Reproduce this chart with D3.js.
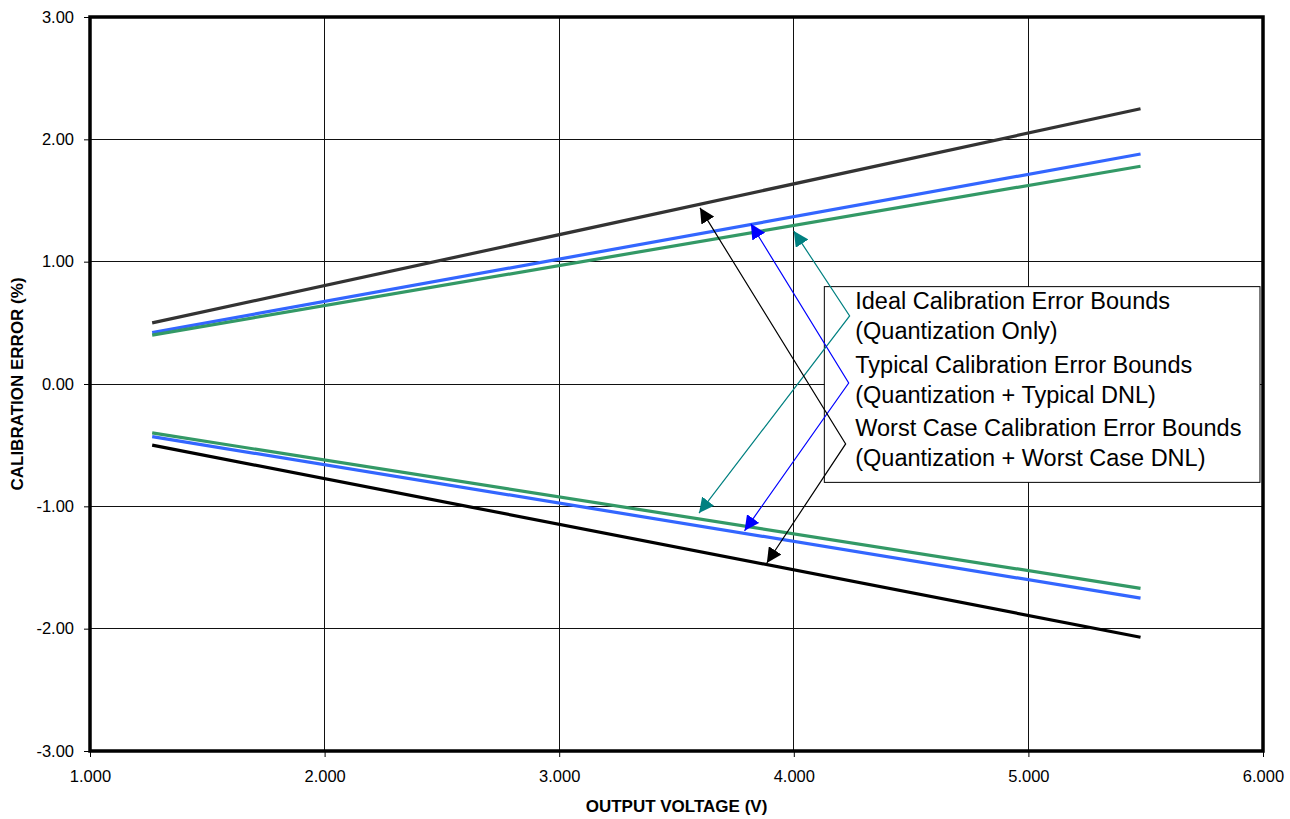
<!DOCTYPE html>
<html lang="en">
  <head>
    <meta charset="UTF-8" />
    <title>Calibration Error Bounds</title>
    <style>
      body { margin: 0; background: #fff; }
      svg { font-family: 'Liberation Sans', Arial, sans-serif; }
    </style>
  </head>
  <body>
    <svg width="1290" height="819"></svg>
    <script src="https://cdnjs.cloudflare.com/ajax/libs/d3/7.8.5/d3.min.js"></script>
    <script>
      // data
      const xTicks = [1, 2, 3, 4, 5, 6];
      const yTicks = [-3, -2, -1, 0, 1, 2, 3];
      const voltage = [1.265, 5.478];
      const worstUpper = [0.5, 2.25];
      const worstLower = [-0.5, -2.07];
      const typicalUpper = [0.42, 1.88];
      const typicalLower = [-0.43, -1.75];
      const idealUpper = [0.4, 1.78];
      const idealLower = [-0.4, -1.67];

      const legendLines = [
        'Ideal Calibration Error Bounds',
        '(Quantization Only)',
        'Typical Calibration Error Bounds',
        '(Quantization + Typical DNL)',
        'Worst Case Calibration Error Bounds',
        '(Quantization + Worst Case DNL)'
      ];

      // callouts: [upper tip, vertex, lower tip] in data units
      const callouts = [
        { color: '#008080', pts: [[4.0, 1.25], [4.238, 0.556], [3.596, -1.055]] },
        { color: '#0000ff', pts: [[3.817, 1.31], [4.234, 0.008], [3.79, -1.2]] },
        { color: '#000000', pts: [[3.6, 1.44], [4.221, -0.49], [3.885, -1.463]] }
      ];

      const svg = d3.select('svg');
      const margin = { top: 17, left: 90, right: 27, bottom: 68 };
      const width = 1290, height = 819;

      const x = d3.scaleLinear().domain([1, 6]).range([margin.left, width - margin.right]);
      const y = d3.scaleLinear().domain([-3, 3]).range([height - margin.bottom, margin.top]);

      // grid
      const grid = svg.append('g').attr('stroke', '#111').attr('stroke-width', 1).attr('shape-rendering', 'crispEdges');
      grid.selectAll('.gx').data(xTicks.slice(1, -1)).join('line')
        .attr('x1', d => x(d)).attr('x2', d => x(d))
        .attr('y1', y(3)).attr('y2', y(-3));
      grid.selectAll('.gy').data(yTicks.slice(1, -1)).join('line')
        .attr('x1', x(1)).attr('x2', x(6))
        .attr('y1', d => y(d)).attr('y2', d => y(d));

      // axes
      const xAxis = svg.append('g')
        .attr('transform', `translate(0,${y(-3)})`)
        .call(d3.axisBottom(x).tickValues(xTicks).tickFormat(d => d.toFixed(3)).tickSize(6).tickPadding(13));
      const yAxis = svg.append('g')
        .attr('transform', `translate(${x(1)},0)`)
        .call(d3.axisLeft(y).tickValues(yTicks).tickFormat(d => d.toFixed(2)).tickSize(6).tickPadding(10));
      [xAxis, yAxis].forEach(a => {
        a.select('.domain').remove();
        a.selectAll('text').attr('font-size', 16.5).attr('fill', '#000').attr('font-family', "'Liberation Sans', Arial, sans-serif");
        a.selectAll('line').attr('stroke', '#000');
      });

      // data lines
      const line = d3.line().x(d => x(d[0])).y(d => y(d[1]));
      const series = [
        { v: worstUpper, c: '#333333' },
        { v: worstLower, c: '#000000' },
        { v: typicalUpper, c: '#3366ff' },
        { v: typicalLower, c: '#3366ff' },
        { v: idealUpper, c: '#339966' },
        { v: idealLower, c: '#339966' }
      ];
      svg.append('g').selectAll('path').data(series).join('path')
        .attr('d', s => line(voltage.map((v, i) => [v, s.v[i]])))
        .attr('fill', 'none')
        .attr('stroke', s => s.c)
        .attr('stroke-width', 3.2);

      // legend box
      const box = { x0: 4.128, x1: 5.985, y0: 0.8, y1: -0.8 };
      svg.append('rect')
        .attr('x', x(box.x0) + 0.5).attr('y', y(box.y0) + 0.5)
        .attr('width', x(box.x1) - x(box.x0)).attr('height', y(box.y1) - y(box.y0))
        .attr('fill', '#fff').attr('stroke', '#000').attr('stroke-width', 1);

      // arrowhead markers
      const defs = svg.append('defs');
      callouts.forEach((c, i) => {
        defs.append('marker')
          .attr('id', 'arr' + i)
          .attr('viewBox', '0 0 10 10')
          .attr('refX', 10).attr('refY', 5)
          .attr('markerWidth', 15).attr('markerHeight', 15)
          .attr('markerUnits', 'userSpaceOnUse')
          .attr('orient', 'auto-start-reverse')
          .append('path').attr('d', 'M0,0L10,5L0,10Z').attr('fill', c.color);
      });

      svg.append('g').selectAll('path').data(callouts).join('path')
        .attr('d', c => d3.line()(c.pts.map(p => [x(p[0]), y(p[1])])))
        .attr('fill', 'none')
        .attr('stroke', d => d.color)
        .attr('stroke-width', 1.2)
        .attr('marker-start', (d, i) => `url(#arr${i})`)
        .attr('marker-end', (d, i) => `url(#arr${i})`);

      const baselines = [309, 339, 373, 403, 436, 466];
      svg.append('g').selectAll('text').data(legendLines).join('text')
        .attr('x', x(4.262))
        .attr('y', (d, i) => baselines[i])
        .attr('font-size', 23.5)
        .attr('fill', '#000')
        .text(d => d);

      // plot border
      svg.append('rect')
        .attr('x', x(1)).attr('y', y(3))
        .attr('width', x(6) - x(1)).attr('height', y(-3) - y(3))
        .attr('fill', 'none').attr('stroke', '#000').attr('stroke-width', 3.5);

      // axis titles
      svg.append('text')
        .attr('x', (x(1) + x(6)) / 2).attr('y', 812)
        .attr('text-anchor', 'middle').attr('font-size', 17).attr('font-weight', 'bold')
        .text('OUTPUT VOLTAGE (V)');
      svg.append('text')
        .attr('transform', `translate(23,${y(0)}) rotate(-90)`)
        .attr('text-anchor', 'middle').attr('font-size', 17).attr('font-weight', 'bold')
        .text('CALIBRATION ERROR (%)');
    </script>
  </body>
</html>
